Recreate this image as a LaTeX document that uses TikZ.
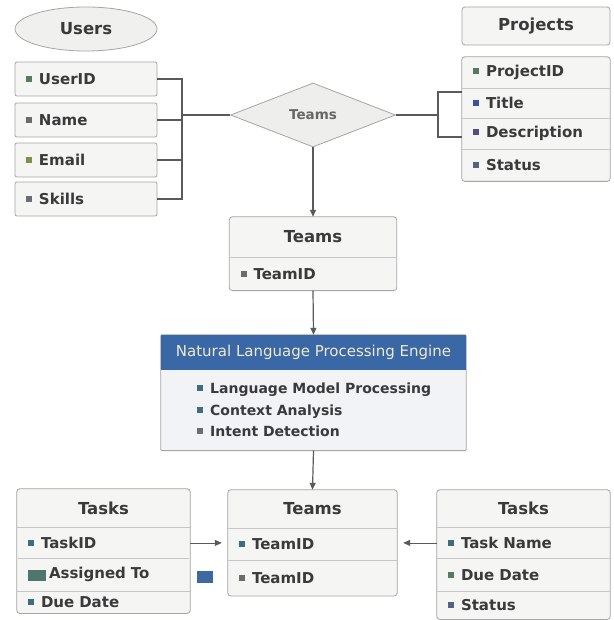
\documentclass[tikz,border=0pt]{standalone}
\usepackage{fontspec}
\setmainfont{DejaVu Sans}
\usetikzlibrary{arrows.meta,shapes.geometric,positioning,backgrounds}
\definecolor{boxfill}{HTML}{F5F5F3}
\definecolor{boxline}{HTML}{A5A5A5}
\definecolor{sepline}{HTML}{C6C6C6}
\definecolor{linkc}{HTML}{5A5A5A}
\definecolor{txt}{HTML}{3A3A3A}
\definecolor{nlpblue}{HTML}{3A68A6}
\definecolor{nlpbody}{HTML}{F1F3F6}
\definecolor{nlptxt}{HTML}{F1E9CC}
\definecolor{bgreen}{HTML}{557A5E}
\definecolor{bgray}{HTML}{6A6D6A}
\definecolor{bolive}{HTML}{7A9448}
\definecolor{bslate}{HTML}{6A6C78}
\definecolor{bblue}{HTML}{3A52A2}
\definecolor{bpurple}{HTML}{524C8C}
\definecolor{bsteel}{HTML}{556383}
\definecolor{bteal}{HTML}{3E6E7C}
\definecolor{fkgreen}{HTML}{4D776E}
\definecolor{fkblue}{HTML}{3D68A2}
\newcommand{\bul}[1]{\textcolor{#1}{\rule[2.5pt]{6pt}{6pt}}\hspace{7pt}}
\newcommand{\fkbadge}[1]{\textcolor{#1}{\rule[-2pt]{18pt}{11pt}}\hspace{3pt}}

\begin{document}
\begin{tikzpicture}
[x=1pt,y=-1pt,
 >={Triangle[length=7pt,width=6pt]},
 hfont/.style={font=\bfseries\fontsize{16.5}{18}\selectfont, text=txt},
 ifont/.style={font=\bfseries\fontsize{15}{17}\selectfont, text=txt},
 ent/.style={draw=boxline, fill=boxfill, rounded corners=3pt, line width=0.8pt, hfont},
 attr/.style={draw=boxline, fill=boxfill, rounded corners=2pt, line width=0.8pt,
   minimum width=142pt, minimum height=34pt, text width=120pt, inner xsep=11pt,
   align=left, ifont},
 hdr/.style={inner sep=0pt, hfont},
 cell/.style={inner xsep=11pt, inner ysep=0pt, align=left, ifont},
 tblframe/.style={draw=boxline, fill=boxfill, rounded corners=3pt, line width=0.8pt},
 rowline/.style={draw=sepline, line width=0.8pt},
 conn/.style={draw=linkc, line width=1.2pt},
 thinconn/.style={draw=linkc, line width=0.8pt, shorten >=6pt},
]
\useasboundingbox (0,0) rectangle (613,620);

\node[ellipse, draw=boxline, fill=boxfill!96!gray, line width=0.8pt, minimum width=142pt,
  minimum height=44pt, hfont] (users) at (86,29) {Users};
\node[attr] (uid) at (86,79) {\bul{bgreen}UserID};
\node[attr] (unm) at (86,120) {\bul{bgray}Name};
\node[attr] (uem) at (86,160) {\bul{bolive}Email};
\node[attr] (usk) at (86,199) {\bul{bslate}Skills};

\node[diamond, draw=boxline, fill=boxfill!94!gray, line width=0.8pt, minimum width=165pt,
  minimum height=64pt, inner sep=0pt, font=\bfseries\fontsize{13.5}{15}\selectfont,
  text=black!60] (rel) at (313,115) {Teams};

\coordinate (jl) at (182,115);
\draw[conn] (uid.east) -| (jl) |- (usk.east);
\draw[conn] (unm.east) -- (unm.east -| jl);
\draw[conn] (uem.east) -- (uem.east -| jl);
\draw[conn] (jl) -- (rel.west);

\node[ent, minimum width=148pt, minimum height=38pt] (proj) at (536,26) {Projects};
\node[cell, text width=126pt, minimum height=31pt] (ppid) at (536,72.5) {\bul{bgreen}ProjectID};
\node[cell, text width=126pt, minimum height=30pt, below=0pt of ppid] (ptit) {\bul{bblue}Title};
\node[cell, text width=126pt, minimum height=30pt, below=0pt of ptit] (pdes) {\bul{bpurple}Description};
\node[cell, text width=126pt, minimum height=32pt, below=0pt of pdes] (psta) {\bul{bsteel}Status};
\begin{scope}[on background layer]
  \draw[tblframe] (ppid.north west) rectangle (psta.south east);
\end{scope}
\draw[rowline] (ptit.north west) -- (ptit.north east);
\draw[rowline] (pdes.north west) -- (pdes.north east);
\draw[rowline] (psta.north west) -- (psta.north east);

\coordinate (jr) at (438,115);
\coordinate (jrt) at (438,92);
\coordinate (jrb) at (438,137);
\draw[conn] (rel.east) -- (jr);
\draw[conn] (jrt -| ppid.west) -| (jrb) -- (jrb -| ppid.west);

\node[hdr, minimum width=167pt, minimum height=40pt] (tmh) at (313,237) {Teams};
\node[cell, text width=145pt, minimum height=33pt, below=0pt of tmh] (tmid) {\bul{bgray}TeamID};
\begin{scope}[on background layer]
  \draw[tblframe] (tmh.north west) rectangle (tmid.south east);
\end{scope}
\draw[rowline] (tmid.north west) -- (tmid.north east);
\draw[conn,->] (rel.south) -- (tmh.north);

\node[minimum width=305pt, minimum height=35pt, inner sep=0pt, fill=nlpblue, text=nlptxt,
  font=\fontsize{15}{17}\selectfont] (nlph) at (313.5,352.5) {Natural Language Processing Engine};
\node[below=0pt of nlph, minimum width=305pt, minimum height=80pt, inner sep=0pt] (nlpb) {};
\node[anchor=west, inner sep=0pt, align=left, font=\bfseries\fontsize{14}{21.5}\selectfont,
  text=txt] (nlpl) at (197,410)
  {\bul{bteal}Language Model Processing\\\bul{bteal}Context Analysis\\\bul{bgray}Intent Detection};
\begin{scope}[on background layer]
  \draw[tblframe, fill=nlpbody, rounded corners=1pt] (nlph.north west) rectangle (nlpb.south east);
\end{scope}
\draw[conn,->] (tmid.south) -- (nlph.north);

\node[hdr, minimum width=169pt, minimum height=38pt] (tch) at (312.5,509) {Teams};
\node[cell, text width=147pt, minimum height=32pt, below=0pt of tch] (tc1) {\bul{bteal}TeamID};
\node[cell, text width=147pt, minimum height=35pt, below=0pt of tc1] (tc2) {\bul{bgray}TeamID};
\begin{scope}[on background layer]
  \draw[tblframe] (tch.north west) rectangle (tc2.south east);
\end{scope}
\draw[rowline] (tc1.north west) -- (tc1.north east);
\draw[rowline] (tc2.north west) -- (tc2.north east);
\draw[conn,->] (nlpb.south) -- (tch.north);

\node[hdr, minimum width=173pt, minimum height=38pt] (tlh) at (103.5,508) {Tasks};
\node[cell, text width=151pt, minimum height=31pt, below=0pt of tlh] (tl1) {\bul{bteal}TaskID};
\node[cell, text width=151pt, minimum height=32pt, below=0pt of tl1, inner xsep=10pt] (tl2)
  {\fkbadge{fkgreen}Assigned To};
\node[cell, text width=151pt, minimum height=22pt, below=0pt of tl2] (tl3) {\bul{bteal}Due Date};
\begin{scope}[on background layer]
  \draw[tblframe] (tlh.north west) rectangle (tl3.south east);
\end{scope}
\draw[rowline] (tl1.north west) -- (tl1.north east);
\draw[rowline] (tl2.north west) -- (tl2.north east);
\draw[rowline] (tl3.north west) -- (tl3.north east);

\node[hdr, minimum width=173pt, minimum height=37pt] (trh) at (523.5,508.5) {Tasks};
\node[cell, text width=151pt, minimum height=31pt, below=0pt of trh] (tr1) {\bul{bteal}Task Name};
\node[cell, text width=151pt, minimum height=32pt, below=0pt of tr1] (tr2) {\bul{bgreen}Due Date};
\node[cell, text width=151pt, minimum height=28pt, below=0pt of tr2] (tr3) {\bul{bsteel}Status};
\begin{scope}[on background layer]
  \draw[tblframe] (trh.north west) rectangle (tr3.south east);
\end{scope}
\draw[rowline] (tr1.north west) -- (tr1.north east);
\draw[rowline] (tr2.north west) -- (tr2.north east);
\draw[rowline] (tr3.north west) -- (tr3.north east);

\node[fill=fkblue, minimum width=16pt, minimum height=12pt, inner sep=0pt] (fkb) at (205,577) {};

\draw[thinconn,->] (tl1.east) -- (tl1.east -| tc1.west);
\draw[thinconn,->] (tr1.west) -- (tr1.west -| tc1.east);
\end{tikzpicture}
\end{document}
